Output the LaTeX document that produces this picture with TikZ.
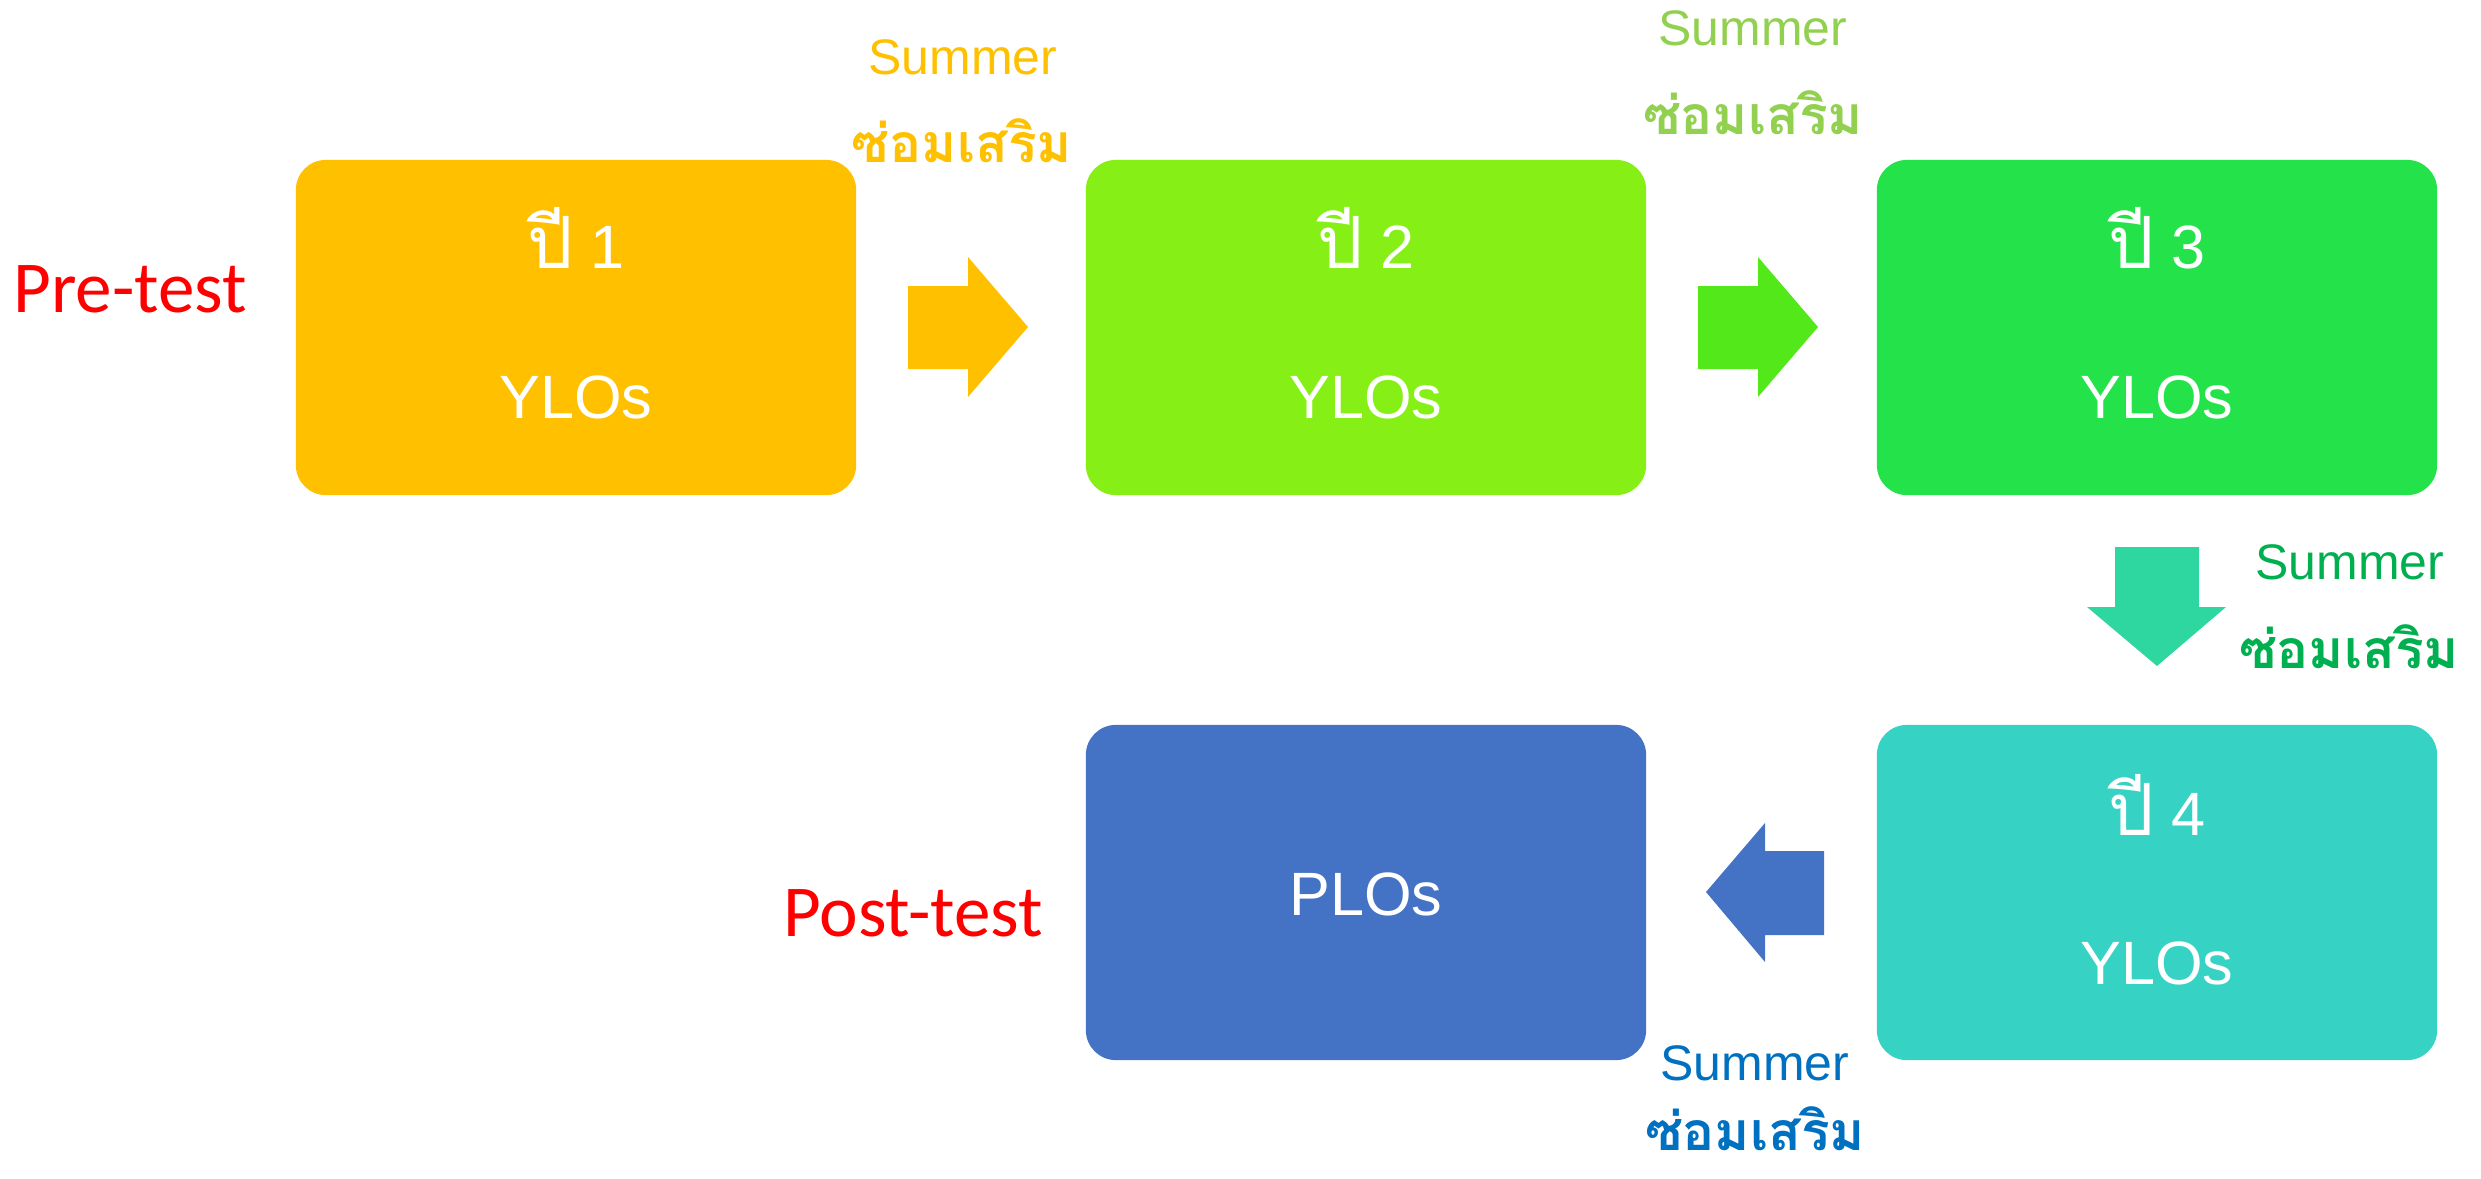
\documentclass[tikz,border=0pt]{standalone}
\usepackage{fontspec}
\setmainfont{Liberation Sans}
\newfontfamily\thaifont[Script=Thai]{Loma}
\newfontfamily\calibfont{Carlito}
\definecolor{cbA}{HTML}{FFC000}
\definecolor{cbB}{HTML}{86F016}
\definecolor{cbC}{HTML}{24E34A}
\definecolor{cbD}{HTML}{36D3C4}
\definecolor{cbE}{HTML}{4472C4}
\definecolor{caB}{HTML}{52E81A}
\definecolor{caC}{HTML}{2ED6A0}
\definecolor{ctB}{HTML}{92D050}
\definecolor{ctC}{HTML}{00B050}
\definecolor{ctD}{HTML}{0070C0}
\definecolor{cred}{HTML}{FF0000}
\newcommand{\thaiyr}{{\thaifont\fontsize{20.5}{22}\selectfont ปี}}
\begin{document}
\begin{tikzpicture}[x=0.01cm,y=-0.01cm,
  boxnode/.style={rounded corners=0.3cm, inner sep=0, minimum width=5.6cm, minimum height=3.35cm},
  boxtxt/.style={anchor=base, inner sep=0, text=white, font=\fontsize{17.4}{20}\selectfont},
  sumtxt/.style={anchor=base, inner sep=0, font=\fontsize{14.2}{16}\selectfont},
  thtxt/.style={anchor=base, inner sep=0, font=\fontsize{15.2}{17}\selectfont\thaifont\bfseries},
  testtxt/.style={anchor=base, inner sep=0, text=cred, font=\fontsize{20.8}{24}\selectfont\calibfont}]
\useasboundingbox (0,0) rectangle (2481,1178);
% boxes
\node[boxnode, fill=cbA] (b1) at (576,327.5) {};
\node[boxnode, fill=cbB] (b2) at (1366,327.5) {};
\node[boxnode, fill=cbC] (b3) at (2157,327.5) {};
\node[boxnode, fill=cbD] (b4) at (2157,892.5) {};
\node[boxnode, fill=cbE] (b5) at (1366,892.5) {};
% box texts
\node[boxtxt] (t1a) at (576,268) {\thaiyr{} 1};
\node[boxtxt] (t1b) at (576,418) {YLOs};
\node[boxtxt] (t2a) at (1366,268) {\thaiyr{} 2};
\node[boxtxt] (t2b) at (1366,418) {YLOs};
\node[boxtxt] (t3a) at (2157,268) {\thaiyr{} 3};
\node[boxtxt] (t3b) at (2157,418) {YLOs};
\node[boxtxt] (t4a) at (2157,835) {\thaiyr{} 4};
\node[boxtxt] (t4b) at (2157,984) {YLOs};
\node[boxtxt] (t5) at (1366,915) {PLOs};
% block arrows
\fill[cbA] (908,286) -- (968,286) -- (968,257) -- (1028,327) -- (968,397) -- (968,369) -- (908,369) -- cycle;
\fill[caB] (1698,286) -- (1758,286) -- (1758,257) -- (1818,327) -- (1758,397) -- (1758,369) -- (1698,369) -- cycle;
\fill[caC] (2115,547) -- (2199,547) -- (2199,607) -- (2226,607) -- (2157,666) -- (2087,607) -- (2115,607) -- cycle;
\fill[cbE] (1824,851) -- (1765,851) -- (1765,823) -- (1706,892) -- (1765,962) -- (1765,935) -- (1824,935) -- cycle;
% labels
\node[sumtxt, text=cbA] (s1) at (963,74) {Summer};
\node[thtxt, text=cbA] (h1) at (962,162) {ซ่อมเสริม};
\node[sumtxt, text=ctB] (s2) at (1753,45) {Summer};
\node[thtxt, text=ctB] (h2) at (1753,134) {ซ่อมเสริม};
\node[sumtxt, text=ctC] (s3) at (2350,579) {Summer};
\node[thtxt, text=ctC] (h3) at (2349,668) {ซ่อมเสริม};
\node[sumtxt, text=ctD] (s4) at (1755,1080) {Summer};
\node[thtxt, text=ctD] (h4) at (1755,1150) {ซ่อมเสริม};
\node[testtxt] (pre) at (130,312) {Pre-test};
\node[testtxt] (post) at (913,936) {Post-test};
\end{tikzpicture}
\end{document}
